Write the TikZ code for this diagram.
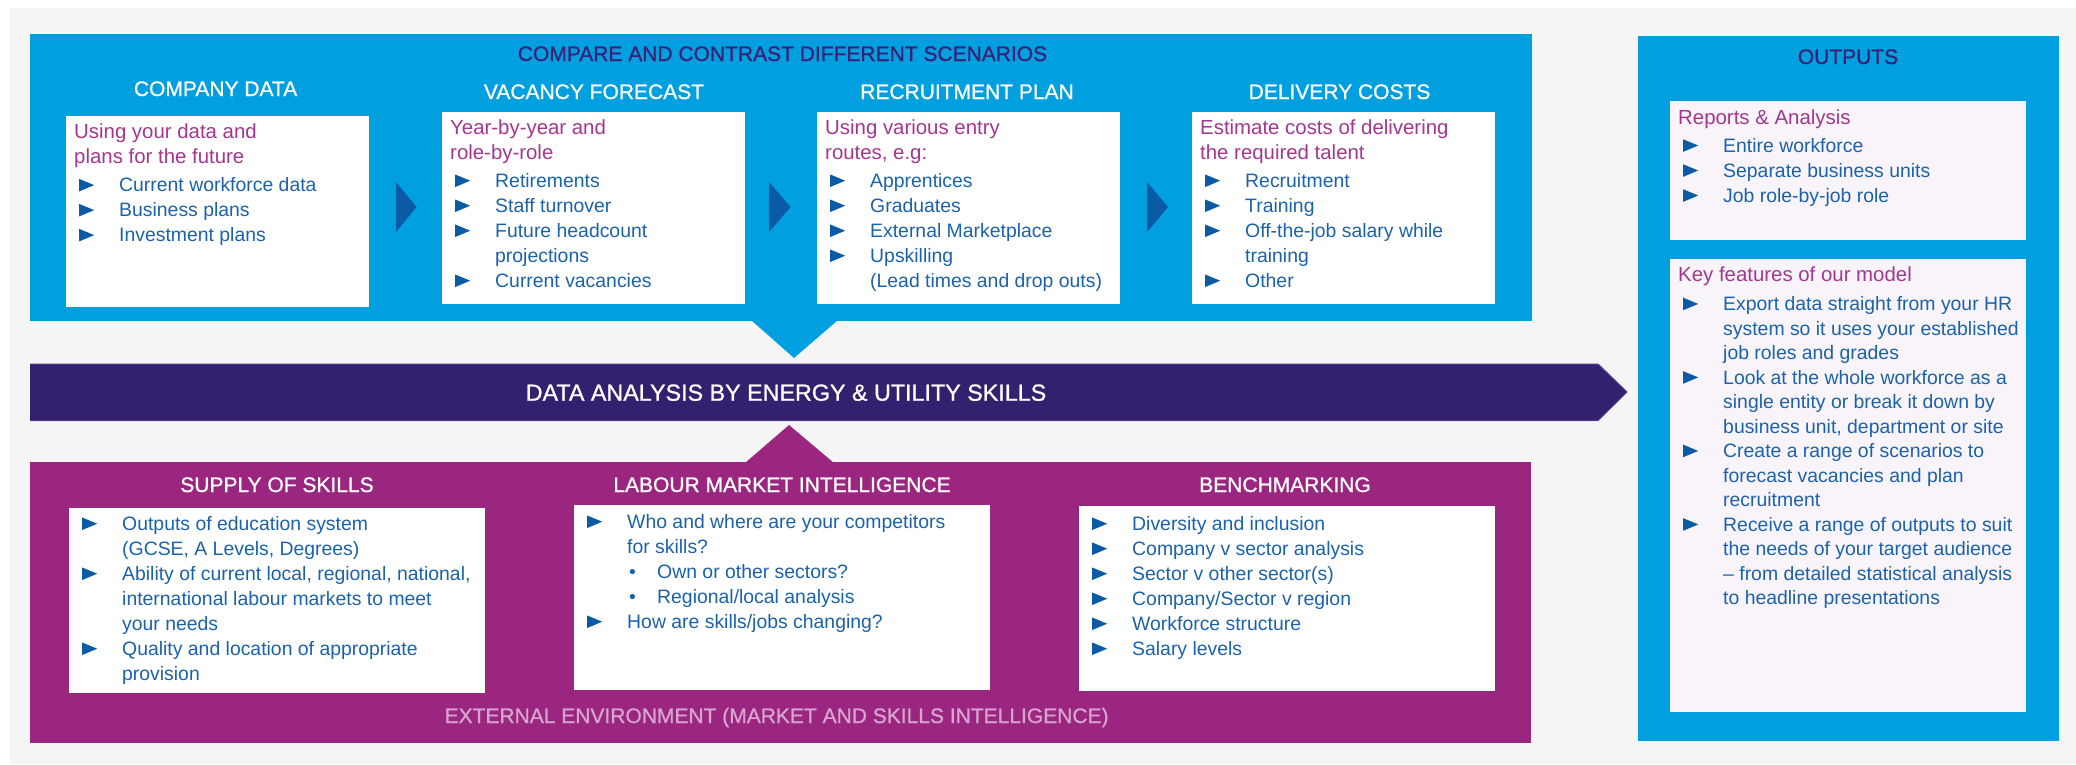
\documentclass[tikz,border=0pt]{standalone}
\usepackage{fontspec}
\setmainfont{Liberation Sans}
\newfontfamily\ttlfont{Liberation Sans}[FakeBold=0.9]
\usepackage{xcolor}
\definecolor{bgray}{HTML}{F5F5F5}
\definecolor{eublue}{HTML}{009FE0}
\definecolor{eupurple}{HTML}{9A2680}
\definecolor{eudark}{HTML}{33206F}
\definecolor{eudarkline}{HTML}{4E3F8A}
\definecolor{titdark}{HTML}{3A2176}
\definecolor{mag}{HTML}{A3378F}
\definecolor{txtblue}{HTML}{1B62AC}
\definecolor{bulc}{HTML}{0B5AA6}
\definecolor{lav}{HTML}{F8F4FA}
\definecolor{extpink}{HTML}{D8A3CF}
\newcommand\bul{\tikz[baseline=0pt]\fill[bulc] (0pt,0.5pt)--(15pt,6.8pt)--(0pt,13pt)--cycle;}
\newcommand\hd[1]{\multicolumn{2}{@{}l@{}}{\color{mag}\fontsize{20.4}{25}\selectfont #1}}
\newcommand\bi{\hspace*{5pt}\bul}
\newcommand\subi[1]{\makebox[30pt][l]{\hspace*{2pt}\textbullet}#1}
\tikzset{
  panel/.style={anchor=north west, inner sep=0pt, outer sep=0pt, draw=none},
  wbox/.style={panel, fill=white},
  lbox/.style={panel, fill=lav},
  ttl/.style={anchor=base, inner sep=0pt, text=white, font=\ttlfont\fontsize{21}{25}\selectfont},
  body/.style={anchor=base west, inner sep=0pt, text=txtblue, font=\fontsize{19.4}{25}\selectfont},
}
\begin{document}
\begin{tikzpicture}[x=1pt,y=-1pt]
\useasboundingbox (0,0) rectangle (2076,764);
\fill[white] (0,0) rectangle (2076,764);
\fill[bgray] (10,8) rectangle (2076,764);

% ---------- panels ----------
\node[panel, fill=eublue, minimum width=1502, minimum height=287] (scen) at (30,34) {};
\node[panel, fill=eupurple, minimum width=1501, minimum height=281] (ext) at (30,462) {};
\node[panel, fill=eublue, minimum width=421, minimum height=705] (outp) at (1638,36) {};

% triangles
\fill[eublue] (751,320) -- (838,320) -- (794,358) -- cycle;
\fill[eupurple] (745,463) -- (789,425) -- (834,463) -- cycle;

% banner
\fill[eudark] (30,364) -- (1598,364) -- (1627,392) -- (1598,420.5) -- (30,420.5) -- cycle;
\draw[eudarkline, line width=1pt] (30,364) -- (1598,364) -- (1627,392) -- (1598,420.5) -- (30,420.5);
\node[anchor=base, inner sep=0pt, text=white, font=\ttlfont\fontsize{23.3}{28}\selectfont] (bantxt) at (786,400.7) {DATA ANALYSIS BY ENERGY \& UTILITY SKILLS};

% ---------- white boxes ----------
\node[wbox, minimum width=303, minimum height=191] (b1) at (66,116) {};
\node[wbox, minimum width=303, minimum height=192] (b2) at (442,112) {};
\node[wbox, minimum width=303, minimum height=192] (b3) at (817,112) {};
\node[wbox, minimum width=303, minimum height=192] (b4) at (1192,112) {};
\node[wbox, minimum width=416, minimum height=185] (bA) at (69,508) {};
\node[wbox, minimum width=416, minimum height=185] (bB) at (574,505) {};
\node[wbox, minimum width=416, minimum height=185] (bC) at (1079,506) {};
\node[lbox, minimum width=356, minimum height=139] (o1) at (1670,101) {};
\node[lbox, minimum width=356, minimum height=453] (o2) at (1670,259) {};

% chevrons
\fill[bulc] (396,182) -- (416.5,207) -- (396,232) -- cycle;
\fill[bulc] (769,182) -- (790.5,207) -- (769,232) -- cycle;
\fill[bulc] (1147,182) -- (1168,207) -- (1147,232) -- cycle;

% ---------- titles ----------
\node[ttl, text=titdark] (tcomp) at (782.5,61) {COMPARE AND CONTRAST DIFFERENT SCENARIOS};
\node[ttl] (tcd) at (215.6,96) {COMPANY DATA};
\node[ttl] (tvf) at (594,99) {VACANCY FORECAST};
\node[ttl] (trp) at (967,99) {RECRUITMENT PLAN};
\node[ttl] (tdc) at (1339.5,99) {DELIVERY COSTS};
\node[ttl, text=titdark] (tout) at (1848,64) {OUTPUTS};
\node[ttl] (tsup) at (277,492) {SUPPLY OF SKILLS};
\node[ttl] (tlmi) at (782,492) {LABOUR MARKET INTELLIGENCE};
\node[ttl] (tben) at (1285,492) {BENCHMARKING};
\node[ttl, text=extpink] (text) at (776.6,723) {EXTERNAL ENVIRONMENT (MARKET AND SKILLS INTELLIGENCE)};

% ---------- box texts ----------
\node[body] (x1) at (74,138.5) {\begin{tabular}[t]{@{}p{45pt}@{}l@{}}
\hd{Using your data and}\\
\hd{plans for the future}\\[3.4pt]
\bi & Current workforce data\\
\bi & Business plans\\
\bi & Investment plans
\end{tabular}};

\node[body] (x2) at (450,134.5) {\begin{tabular}[t]{@{}p{45pt}@{}l@{}}
\hd{Year-by-year and}\\
\hd{role-by-role}\\[3pt]
\bi & Retirements\\
\bi & Staff turnover\\
\bi & Future headcount\\
 & projections\\
\bi & Current vacancies
\end{tabular}};

\node[body] (x3) at (825,134.5) {\begin{tabular}[t]{@{}p{45pt}@{}l@{}}
\hd{Using various entry}\\
\hd{routes, e.g:}\\[3pt]
\bi & Apprentices\\
\bi & Graduates\\
\bi & External Marketplace\\
\bi & Upskilling\\
 & (Lead times and drop outs)
\end{tabular}};

\node[body] (x4) at (1200,134.5) {\begin{tabular}[t]{@{}p{45pt}@{}l@{}}
\hd{Estimate costs of delivering}\\
\hd{the required talent}\\[3pt]
\bi & Recruitment\\
\bi & Training\\
\bi & Off-the-job salary while\\
 & training\\
\bi & Other
\end{tabular}};

\node[body] (xA) at (77,530.5) {\begin{tabular}[t]{@{}p{45pt}@{}l@{}}
\bi & Outputs of education system\\
 & (GCSE, A Levels, Degrees)\\
\bi & Ability of current local, regional, national,\\
 & international labour markets to meet\\
 & your needs\\
\bi & Quality and location of appropriate\\
 & provision
\end{tabular}};

\node[body] (xB) at (582,528.5) {\begin{tabular}[t]{@{}p{45pt}@{}l@{}}
\bi & Who and where are your competitors\\
 & for skills?\\
 & \subi{Own or other sectors?}\\
 & \subi{Regional/local analysis}\\
\bi & How are skills/jobs changing?
\end{tabular}};

\node[body] (xC) at (1087,530.5) {\begin{tabular}[t]{@{}p{45pt}@{}l@{}}
\bi & Diversity and inclusion\\
\bi & Company v sector analysis\\
\bi & Sector v other sector(s)\\
\bi & Company/Sector v region\\
\bi & Workforce structure\\
\bi & Salary levels
\end{tabular}};

\node[body] (xO1) at (1678,124.3) {\begin{tabular}[t]{@{}p{45pt}@{}l@{}}
\hd{Reports \& Analysis}\\[3pt]
\bi & Entire workforce\\
\bi & Separate business units\\
\bi & Job role-by-job role
\end{tabular}};

\node[body, font=\fontsize{19.4}{24.5}\selectfont] (xO2) at (1678,281.3) {\begin{tabular}[t]{@{}p{45pt}@{}l@{}}
\hd{Key features of our model}\\[4.9pt]
\bi & Export data straight from your HR\\
 & system so it uses your established\\
 & job roles and grades\\
\bi & Look at the whole workforce as a\\
 & single entity or break it down by\\
 & business unit, department or site\\
\bi & Create a range of scenarios to\\
 & forecast vacancies and plan\\
 & recruitment\\
\bi & Receive a range of outputs to suit\\
 & the needs of your target audience\\
 & – from detailed statistical analysis\\
 & to headline presentations
\end{tabular}};
\end{tikzpicture}
\end{document}
